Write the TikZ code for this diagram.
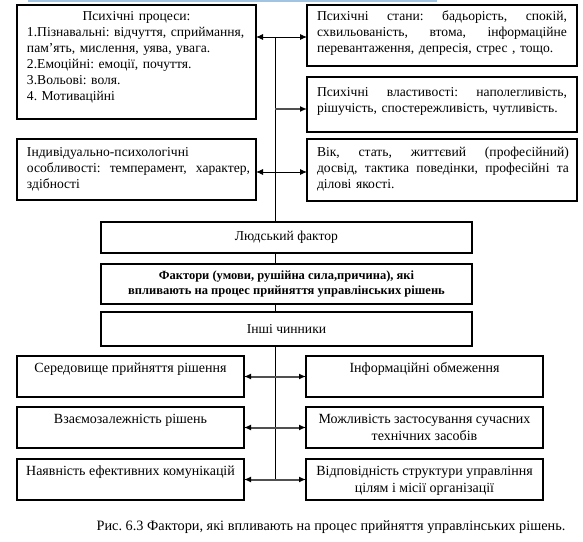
\documentclass[tikz,border=0pt]{standalone}
\usepackage{fontspec}
\setmainfont{Liberation Serif}
\usetikzlibrary{arrows.meta}
\definecolor{topblue}{RGB}{160,196,226}
\definecolor{arrgray}{RGB}{80,80,80}
\tikzset{
  box/.style={draw, line width=1.1pt, inner sep=0pt, outer sep=0pt},
  txt/.style={inner sep=0pt, outer sep=0pt, font=\fontsize{13.6}{16}\selectfont\frenchspacing, align=left},
  btxt/.style={inner sep=0pt, outer sep=0pt, font=\fontsize{14}{16.5}\selectfont\frenchspacing, align=center},
  ctxt/.style={font=\fontsize{13.6}{16}\selectfont\frenchspacing, align=center},
  dbl/.style={line width=0.9pt, {Latex[length=7pt,width=6pt]}-{Latex[length=7pt,width=6pt]}},
  sgl/.style={line width=1.5pt, draw=arrgray, -{Latex[length=7pt,width=6pt,fill=black,color=black]}},
  gdbl/.style={line width=2pt, draw=arrgray, {Latex[length=7pt,width=6pt,fill=black,color=black]}-{Latex[length=7pt,width=6pt,fill=black,color=black]}},
  vline/.style={line width=0.9pt}
}
\newcommand{\jl}[2]{\leavevmode\hbox to #1pt{#2}}
\begin{document}
\begin{tikzpicture}[x=1pt,y=-1pt]
\useasboundingbox (0,0) rectangle (583,541);
\draw[line width=2pt, topblue] (28,1) -- (437,1);

% boxes
\node[box, minimum width=239, minimum height=114] (proc) at (136.5,62) {};
\node[box, minimum width=270, minimum height=61] (states) at (442,35.5) {};
\node[box, minimum width=270, minimum height=55] (props) at (442,104.5) {};
\node[box, minimum width=239, minimum height=61] (indiv) at (136.5,169.5) {};
\node[box, minimum width=270, minimum height=62] (age) at (442,170) {};
\node[box, minimum width=371, minimum height=31, ctxt] (human) at (286.5,237.5) {Людський фактор};
\node[box, minimum width=371, minimum height=40, ctxt, font=\fontsize{12.5}{15.5}\selectfont\bfseries] (factors) at (286.5,284) {Фактори (умови, рушійна сила,причина), які\\впливають на процес прийняття управлінських рішень};
\node[box, minimum width=371, minimum height=34, ctxt] (other) at (286.5,329) {Інші чинники};
\node[box, minimum width=227, minimum height=41] (env) at (130.5,376.5) {};
\node[box, minimum width=237, minimum height=41] (info) at (424.5,376.5) {};
\node[box, minimum width=227, minimum height=41] (interdep) at (130.5,427.5) {};
\node[box, minimum width=237, minimum height=41] (tech) at (424.5,427.5) {};
\node[box, minimum width=227, minimum height=41] (comm) at (130.5,479.5) {};
\node[box, minimum width=237, minimum height=41] (struct) at (424.5,479.5) {};

% texts
\node[txt, text width=219, anchor=north west] (procT) at ([xshift=10pt,yshift=-4pt]proc.north west)
 {\strut\makebox[219pt]{Психічні процеси:}\\
  1.Пізнавальні: відчуття, сприймання,\\
  пам'ять, мислення, уява, увага.\\
  2.Емоційні: емоції, почуття.\\
  3.Вольові: воля.\\
  4. Мотиваційні};
\node[txt, text width=250, anchor=north west] (statesT) at ([xshift=10pt,yshift=-4pt]states.north west)
 {\strut\jl{250}{Психічні\hfill стани:\hfill бадьорість,\hfill спокій,}\\
  \jl{250}{схвильованість,\hfill втома,\hfill інформаційне}\\
  перевантаження, депресія, стрес , тощо.};
\node[txt, text width=250, anchor=north west] (propsT) at ([xshift=10pt,yshift=-8pt]props.north west)
 {\strut\jl{250}{Психічні\hfill властивості:\hfill наполегливість,}\\
  рішучість, спостережливість, чутливість.};
\node[txt, text width=223, anchor=north west] (indivT) at ([xshift=10pt,yshift=-6pt]indiv.north west)
 {\strut Індивідуально-психологічні\\
  \jl{223}{особливості:\hfill темперамент,\hfill характер,}\\
  здібності};
\node[txt, text width=252, anchor=north west] (ageT) at ([xshift=10pt,yshift=-6pt]age.north west)
 {\strut\jl{252}{Вік,\hfill стать,\hfill життєвий\hfill (професійний)}\\
  \jl{252}{досвід,\hfill тактика\hfill поведінки,\hfill професійні\hfill та}\\
  ділові якості.};
\node[btxt, anchor=north] (envT) at ([yshift=-5pt]env.north) {\strut Середовище прийняття рішення};
\node[btxt, anchor=north] (infoT) at ([yshift=-5pt]info.north) {\strut Інформаційні обмеження};
\node[btxt, anchor=north] (interdepT) at ([yshift=-5pt]interdep.north) {\strut Взаємозалежність рішень};
\node[btxt, anchor=north] (techT) at ([yshift=-5pt]tech.north) {\strut Можливість застосування сучасних\\технічних засобів};
\node[btxt, anchor=north] (commT) at ([yshift=-5pt]comm.north) {\strut Наявність ефективних комунікацій};
\node[btxt, anchor=north] (structT) at ([yshift=-5pt]struct.north) {\strut Відповідність структури управління\\цілям і місії організації};

\node[ctxt, font=\fontsize{14.3}{16}\selectfont\frenchspacing] (cap) at (331,527) {Рис. 6.3 Фактори, які впливають на процес прийняття управлінських рішень.};

% connectors
\coordinate (r1) at (275,37);
\coordinate (r2) at (275,109);
\coordinate (r3) at (275,172);
\coordinate (bot) at (275,480);
\draw[vline] (r1) -- (r1 |- human.north);
\draw[vline] (human.south -| r1) -- (factors.north -| r1);
\draw[vline] (factors.south -| r1) -- (other.north -| r1);
\draw[vline] (other.south -| r1) -- (bot);
\draw[dbl] (proc.east |- r1) -- (states.west |- r1);
\draw[sgl] (r2) -- (props.west |- r2);
\draw[dbl] (indiv.east |- r3) -- (age.west |- r3);
\draw[gdbl] (env.east) -- (info.west);
\draw[gdbl] (interdep.east) -- (tech.west);
\draw[gdbl] (comm.east) -- (struct.west);
\end{tikzpicture}
\end{document}
